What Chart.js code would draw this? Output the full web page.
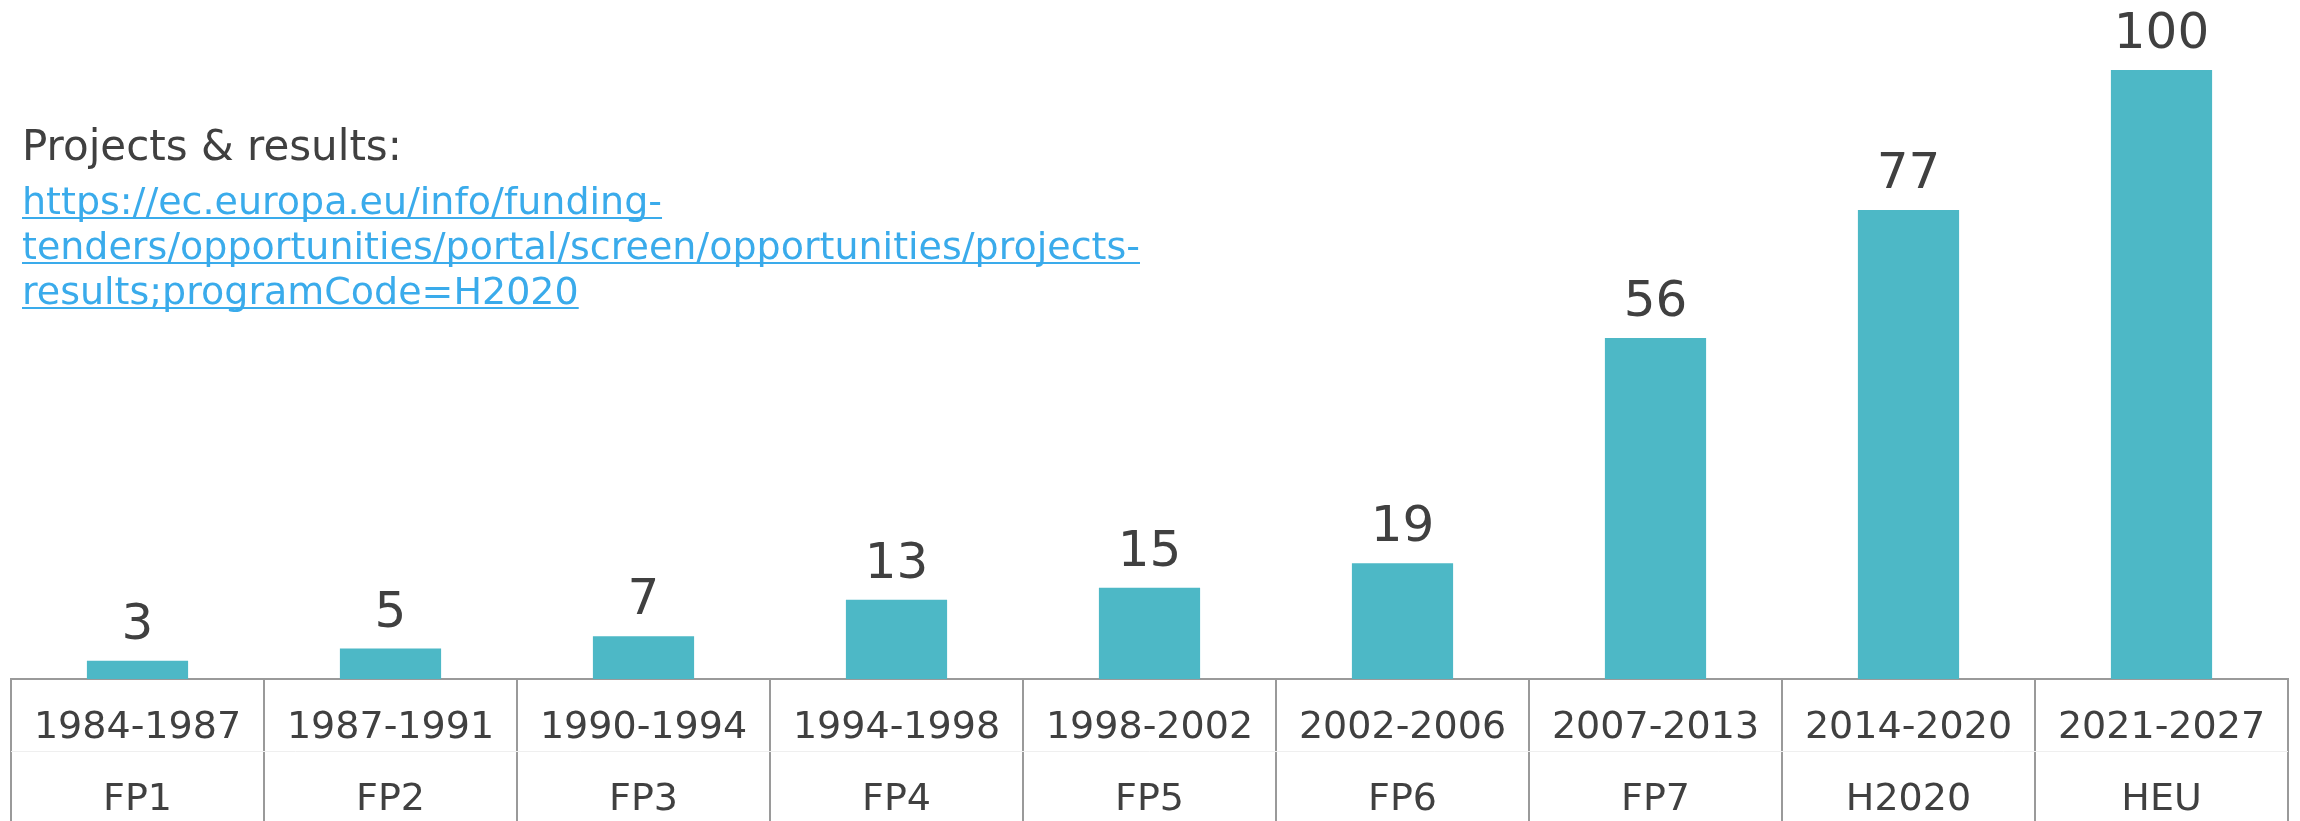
<!DOCTYPE html>
<html>
<head>
<meta charset="utf-8">
<script src="https://cdn.jsdelivr.net/npm/chart.js@4/dist/chart.umd.min.js"></script>
<style>
  html, body { margin: 0; padding: 0; background: #fff; }
  #wrap { width: 2300px; height: 821px; position: relative; }
</style>
</head>
<body>
<div id="wrap"><canvas id="myChart"></canvas></div>
<script>
// Datas
const periods = ["1984-1987", "1987-1991", "1990-1994", "1994-1998", "1998-2002", "2002-2006", "2007-2013", "2014-2020", "2021-2027"];
const programmes = ["FP1", "FP2", "FP3", "FP4", "FP5", "FP6", "FP7", "H2020", "HEU"];
const budgets = [3, 5, 7, 13, 15, 19, 56, 77, 100];
const noteTitle = "Projects & results:";
const noteLink = ["https://ec.europa.eu/info/funding-", "tenders/opportunities/portal/screen/opportunities/projects-", "results;programCode=H2020"];

const textGrey = '#404040';
const lineGrey = '#9a9a9a';

// value labels above bars + the note in the top left
const extras = {
    id: 'extras',
    afterDatasetsDraw(chart) {
        const ctx = chart.ctx;
        const meta = chart.getDatasetMeta(0);
        ctx.save();
        ctx.fillStyle = textGrey;
        ctx.font = '50px "DejaVu Sans"';
        ctx.textAlign = 'center';
        ctx.textBaseline = 'alphabetic';
        meta.data.forEach((bar, i) => {
            ctx.fillText(budgets[i], bar.x, bar.y - 22);
        });

        // faint line between the two label rows
        const xs = chart.scales.x;
        ctx.strokeStyle = '#efefef';
        ctx.lineWidth = 1;
        ctx.beginPath();
        ctx.moveTo(xs.left, xs.top + 72.5);
        ctx.lineTo(xs.right, xs.top + 72.5);
        ctx.stroke();

        ctx.textAlign = 'left';
        ctx.font = '42px "DejaVu Sans"';
        ctx.fillText(noteTitle, 22, 160);
        ctx.font = '38px "DejaVu Sans"';
        ctx.fillStyle = '#3aabeb';
        ctx.strokeStyle = '#3aabeb';
        ctx.lineWidth = 2;
        noteLink.forEach((line, i) => {
            const y = 214 + i * 45;
            ctx.fillText(line, 22, y);
            const w = ctx.measureText(line).width;
            ctx.beginPath();
            ctx.moveTo(22, y + 4);
            ctx.lineTo(22 + w, y + 4);
            ctx.stroke();
        });
        ctx.restore();
    }
};

const myChart = new Chart('myChart', {
    type: 'bar',
    data: {
        labels: periods.map((p, i) => [p, programmes[i]]),
        datasets: [{
            data: budgets,
            backgroundColor: '#4db8c6',
            borderWidth: 0,
            categoryPercentage: 1,
            barPercentage: 0.4
        }]
    },
    options: {
        responsive: true,
        maintainAspectRatio: false,
        animation: false,
        layout: { padding: { left: 11, right: 12, top: 0, bottom: 0 } },
        plugins: {
            legend: { display: false },
            tooltip: { enabled: false }
        },
        scales: {
            x: {
                grid: {
                    offset: true,
                    drawOnChartArea: false,
                    drawTicks: true,
                    tickLength: 142,
                    color: lineGrey,
                    lineWidth: 2
                },
                border: { display: true, color: lineGrey, width: 2 },
                ticks: {
                    color: textGrey,
                    font: { family: '"DejaVu Sans"', size: 38, lineHeight: 72 / 38 },
                    padding: -129,
                    maxRotation: 0,
                    autoSkip: false
                },
                afterFit(scale) { scale.height = 142; }
            },
            y: {
                display: false,
                min: 0,
                max: 111.5
            }
        }
    },
    plugins: [extras]
});
</script>
</body>
</html>
